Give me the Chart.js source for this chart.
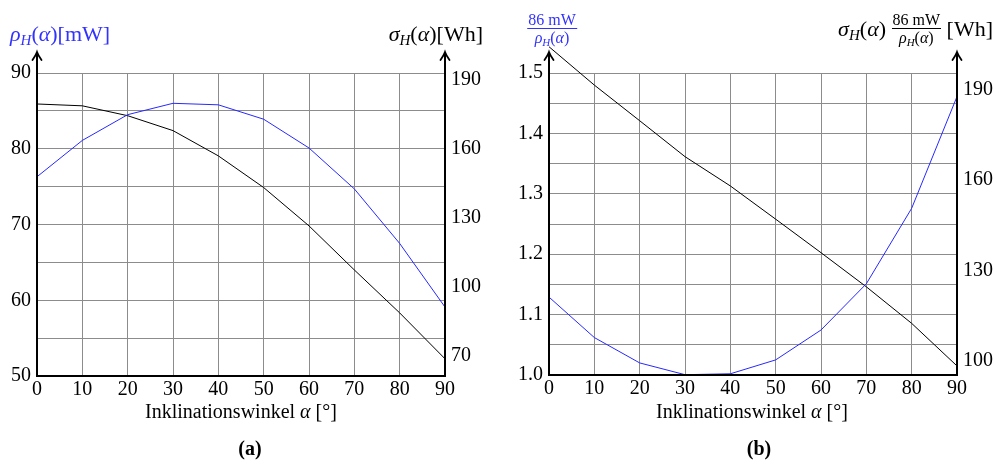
<!DOCTYPE html>
<html>
<head>
<meta charset="utf-8">
<script src="https://cdn.jsdelivr.net/npm/chart.js@4/dist/chart.umd.min.js"></script>
<style>
  html, body { margin: 0; padding: 0; background: #fff; }
  #wrap { position: relative; width: 997px; height: 462px; overflow: hidden; }
  canvas { position: absolute; top: 0; }
  .t { position: absolute; font-family: 'Liberation Serif', 'DejaVu Serif', serif; font-size: 20px; line-height: 20px; white-space: nowrap; color: #000; }
  .big { font-size: 22px; line-height: 22px; }
  .t sub { font-size: 15px; font-style: italic; vertical-align: -4px; line-height: 0; }
  .c { transform: translateX(-50%); }
  .blue { color: rgb(50, 50, 255); }
  .frac { display: inline-flex; flex-direction: column; align-items: center; vertical-align: middle; font-size: 16px; line-height: 15px; }
  .frac .num { border-bottom: 1px solid currentColor; padding: 0 1px 1px; }
  .frac .den { padding-top: 1px; }
  .frac sub { font-size: 11px; vertical-align: -3px; }
</style>
</head>
<body>
<div id="wrap">
  <canvas id="chartA" width="498" height="420" style="left:0"></canvas>
  <canvas id="chartB" width="499" height="420" style="left:498px"></canvas>

  <div class="t big blue" style="left:10px;top:23px"><i>ρ</i><sub>H</sub>(<i>α</i>)[mW]</div>
  <div class="t big" style="right:514px;top:23px"><i>σ</i><sub>H</sub>(<i>α</i>)[Wh]</div>
  <div class="t c" style="left:241px;top:401px">Inklinationswinkel <i>α</i> [°]</div>
  <div class="t c" style="left:250px;top:438px"><b>(a)</b></div>

  <div class="t blue c" style="left:552px;top:12px"><span class="frac"><span class="num">86 mW</span><span class="den"><i>ρ</i><sub>H</sub>(<i>α</i>)</span></span></div>
  <div class="t big" style="right:4px;top:12px;display:flex;align-items:center"><span><i>σ</i><sub>H</sub>(<i>α</i>)&nbsp;</span><span class="frac"><span class="num">86 mW</span><span class="den"><i>ρ</i><sub>H</sub>(<i>α</i>)</span></span><span>&nbsp;[Wh]</span></div>
  <div class="t c" style="left:752px;top:401px">Inklinationswinkel <i>α</i> [°]</div>
  <div class="t c" style="left:759px;top:438px"><b>(b)</b></div>
</div>
<script>
// Inklinationswinkel (x)
const alpha = [0, 10, 20, 30, 40, 50, 60, 70, 80, 90];

// (a) rho_H in mW (left), sigma_H in Wh (right)
const rhoA   = [76.3, 81.1, 84.5, 86.0, 85.8, 83.9, 80.1, 74.7, 67.5, 59.1];
const sigmaA = [179.5, 178.7, 174.4, 167.9, 156.9, 143.1, 126.4, 107.2, 88.5, 68.5];

// (b) 86 mW / rho_H (left), sigma_H * 86 mW / rho_H in Wh (right)
const ratioB = [1.129, 1.062, 1.020, 1.0005, 1.002, 1.025, 1.0745, 1.151, 1.276, 1.461];
const sigmaB = [204.1, 191.4, 179.6, 167.7, 158.0, 147.0, 135.9, 124.6, 112.5, 98.4];

// tick labels
const xTicks       = [0, 10, 20, 30, 40, 50, 60, 70, 80, 90];
const leftGridA    = [50, 55, 60, 65, 70, 75, 80, 85, 90];
const rightTicksA  = [70, 100, 130, 160, 190];
const leftGridB    = [1.0, 1.05, 1.1, 1.15, 1.2, 1.25, 1.3, 1.35, 1.4, 1.45, 1.5];
const rightTicksB  = [100, 130, 160, 190];

const BLUE = 'rgb(40, 40, 255)';
const GRID = '#8c8c8c';
const FONT = { family: "'Liberation Serif', 'DejaVu Serif', serif", size: 20 };

const axesPlugin = {
    id: 'axes',
    afterDatasetsDraw(chart) {
        const { ctx, chartArea } = chart;
        const { left, right, top, bottom } = chartArea;
        const tipY = top - 21;
        ctx.save();
        ctx.strokeStyle = '#000';
        ctx.lineWidth = 2;
        ctx.beginPath();
        ctx.moveTo(left - 1, bottom);
        ctx.lineTo(right + 1, bottom);
        ctx.moveTo(left, bottom);
        ctx.lineTo(left, tipY + 1);
        ctx.moveTo(right, bottom);
        ctx.lineTo(right, tipY + 1);
        ctx.stroke();
        ctx.lineWidth = 1.8;
        ctx.lineCap = 'round';
        [left, right].forEach(x => {
            ctx.beginPath();
            ctx.moveTo(x - 4.5, tipY + 8);
            ctx.quadraticCurveTo(x - 1, tipY + 3, x, tipY);
            ctx.quadraticCurveTo(x + 1, tipY + 3, x + 4.5, tipY + 8);
            ctx.stroke();
        });
        ctx.restore();
    }
};

function pts(ys) {
    return alpha.map((x, i) => ({ x, y: ys[i] }));
}

function setTicks(list) {
    return s => { s.ticks = list.map(v => ({ value: v })); };
}

function makeChart(id, opt) {
    return new Chart(document.getElementById(id), {
        type: 'line',
        data: {
            datasets: [
                { data: pts(opt.blue), yAxisID: 'y', borderColor: BLUE, borderWidth: 1, pointRadius: 0, tension: 0, clip: false },
                { data: pts(opt.black), yAxisID: 'y2', borderColor: '#000', borderWidth: 1, pointRadius: 0, tension: 0, clip: false }
            ]
        },
        options: {
            responsive: false,
            animation: false,
            layout: { padding: { top: 73, left: 0, right: 0, bottom: 0 } },
            plugins: { legend: { display: false }, tooltip: { enabled: false } },
            scales: {
                x: {
                    type: 'linear', min: 0, max: 90,
                    afterBuildTicks: setTicks(xTicks),
                    afterFit: s => { s.height = opt.xh; },
                    grid: { color: GRID, lineWidth: 1, drawTicks: false },
                    border: { display: false },
                    ticks: { font: FONT, color: '#000', padding: 2, maxRotation: 0, autoSkip: false }
                },
                y: {
                    position: 'left', min: opt.lmin, max: opt.lmax,
                    afterBuildTicks: setTicks(opt.lgrid),
                    afterFit: s => { s.width = opt.lw; },
                    grid: { color: GRID, lineWidth: 1, drawTicks: false },
                    border: { display: false },
                    ticks: { font: FONT, color: '#000', padding: 6, autoSkip: false, callback: opt.lfmt }
                },
                y2: {
                    position: 'right', min: opt.rmin, max: opt.rmax,
                    afterBuildTicks: setTicks(opt.rticks),
                    afterFit: s => { s.width = opt.rw; },
                    grid: { display: false, drawTicks: false },
                    border: { display: false },
                    ticks: { font: FONT, color: '#000', padding: 6, autoSkip: false }
                }
            }
        },
        plugins: [axesPlugin]
    });
}

makeChart('chartA', {
    blue: rhoA, black: sigmaA,
    lmin: 50, lmax: 90, lgrid: leftGridA, lw: 37, lfmt: v => (v % 10 === 0 ? v : ''),
    rmin: 61, rmax: 193, rticks: rightTicksA, rw: 53,
    xh: 44
});

makeChart('chartB', {
    blue: ratioB, black: sigmaB,
    lmin: 1.0, lmax: 1.5, lgrid: leftGridB, lw: 51,
    lfmt: v => (Math.round(v * 100) % 10 === 0 ? v.toFixed(1) : ''),
    rmin: 95.4, rmax: 195.4, rticks: rightTicksB, rw: 40,
    xh: 45
});
</script>
</body>
</html>
